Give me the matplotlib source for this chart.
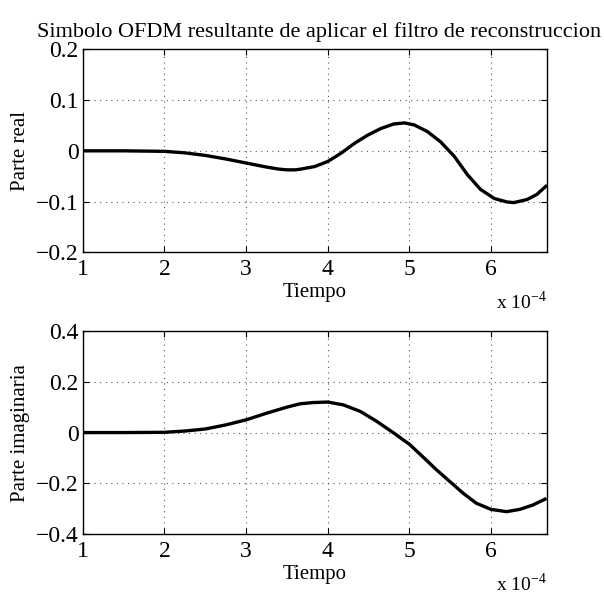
import numpy as np
import matplotlib.pyplot as plt
from matplotlib.ticker import FuncFormatter

plt.rcParams['font.family'] = ['Liberation Serif', 'DejaVu Serif']
plt.rcParams['mathtext.fontset'] = 'custom'
plt.rcParams['mathtext.rm'] = 'Liberation Serif'

# tiempo en unidades de 1e-4 s
t_real = [1.0, 1.5, 2.0, 2.25, 2.5, 2.75, 3.0, 3.25, 3.4, 3.5, 3.6, 3.67, 3.84,
          4.0, 4.16, 4.33, 4.49, 4.65, 4.81, 4.94, 5.06, 5.22, 5.38, 5.55, 5.71,
          5.87, 6.04, 6.2, 6.28, 6.44, 6.56, 6.67]
parte_real = [0.0, 0.0, -0.001, -0.004, -0.009, -0.016, -0.024, -0.032, -0.036,
              -0.0375, -0.0375, -0.036, -0.031, -0.021, -0.005, 0.015, 0.031,
              0.044, 0.053, 0.055, 0.051, 0.038, 0.018, -0.011, -0.047, -0.076,
              -0.094, -0.101, -0.102, -0.096, -0.086, -0.070]

t_imag = [1.0, 1.5, 2.0, 2.25, 2.5, 2.75, 3.0, 3.25, 3.5, 3.66, 3.82, 4.0, 4.19,
          4.4, 4.6, 4.8, 5.0, 5.17, 5.33, 5.5, 5.66, 5.82, 6.0, 6.19, 6.35,
          6.51, 6.66]
parte_imag = [0.0, 0.0, 0.001, 0.006, 0.014, 0.030, 0.050, 0.076, 0.100, 0.113,
              0.118, 0.120, 0.109, 0.083, 0.044, 0.0, -0.046, -0.097, -0.146,
              -0.194, -0.239, -0.278, -0.302, -0.311, -0.302, -0.285, -0.262]

fig = plt.figure(figsize=(6.04, 5.95), dpi=100)
ax1 = fig.add_axes([0.137, 0.576, 0.768, 0.341])
ax2 = fig.add_axes([0.137, 0.102, 0.768, 0.342])

fmt = FuncFormatter(lambda v, p: ('%g' % round(v, 6)).replace('-', '\u2212'))


def estilo(ax, ylim, yticks, ylabel):
    ax.set_xlim(1, 6.68)
    ax.set_ylim(*ylim)
    ax.set_xticks([1, 2, 3, 4, 5, 6])
    ax.set_yticks(yticks)
    ax.yaxis.set_major_formatter(fmt)
    ax.tick_params(direction='in', top=True, right=True, labelsize=17, length=4, pad=3)
    ax.tick_params(axis='x', pad=5)
    ax.grid(True, linestyle=(0, (1, 4)), color='0.35', linewidth=0.8)
    ax.set_ylabel(ylabel, fontsize=15, labelpad=4)
    ax.set_xlabel('Tiempo', fontsize=15, labelpad=2)
    ax.text(1.0, -0.19, r'x 10$^{-4}$', transform=ax.transAxes, ha='right', va='top', fontsize=14)
    for s in ax.spines.values():
        s.set_linewidth(1.0)


ax1.plot(t_real, parte_real, color='black', linewidth=2.4)
estilo(ax1, (-0.2, 0.2), [-0.2, -0.1, 0, 0.1, 0.2], 'Parte real')
ax1.set_title('Simbolo OFDM resultante de aplicar el filtro de reconstruccion',
              fontsize=16, pad=9, x=0.51)

ax2.plot(t_imag, parte_imag, color='black', linewidth=2.4)
estilo(ax2, (-0.4, 0.4), [-0.4, -0.2, 0, 0.2, 0.4], 'Parte imaginaria')

fig.savefig('out.png', dpi=100)
